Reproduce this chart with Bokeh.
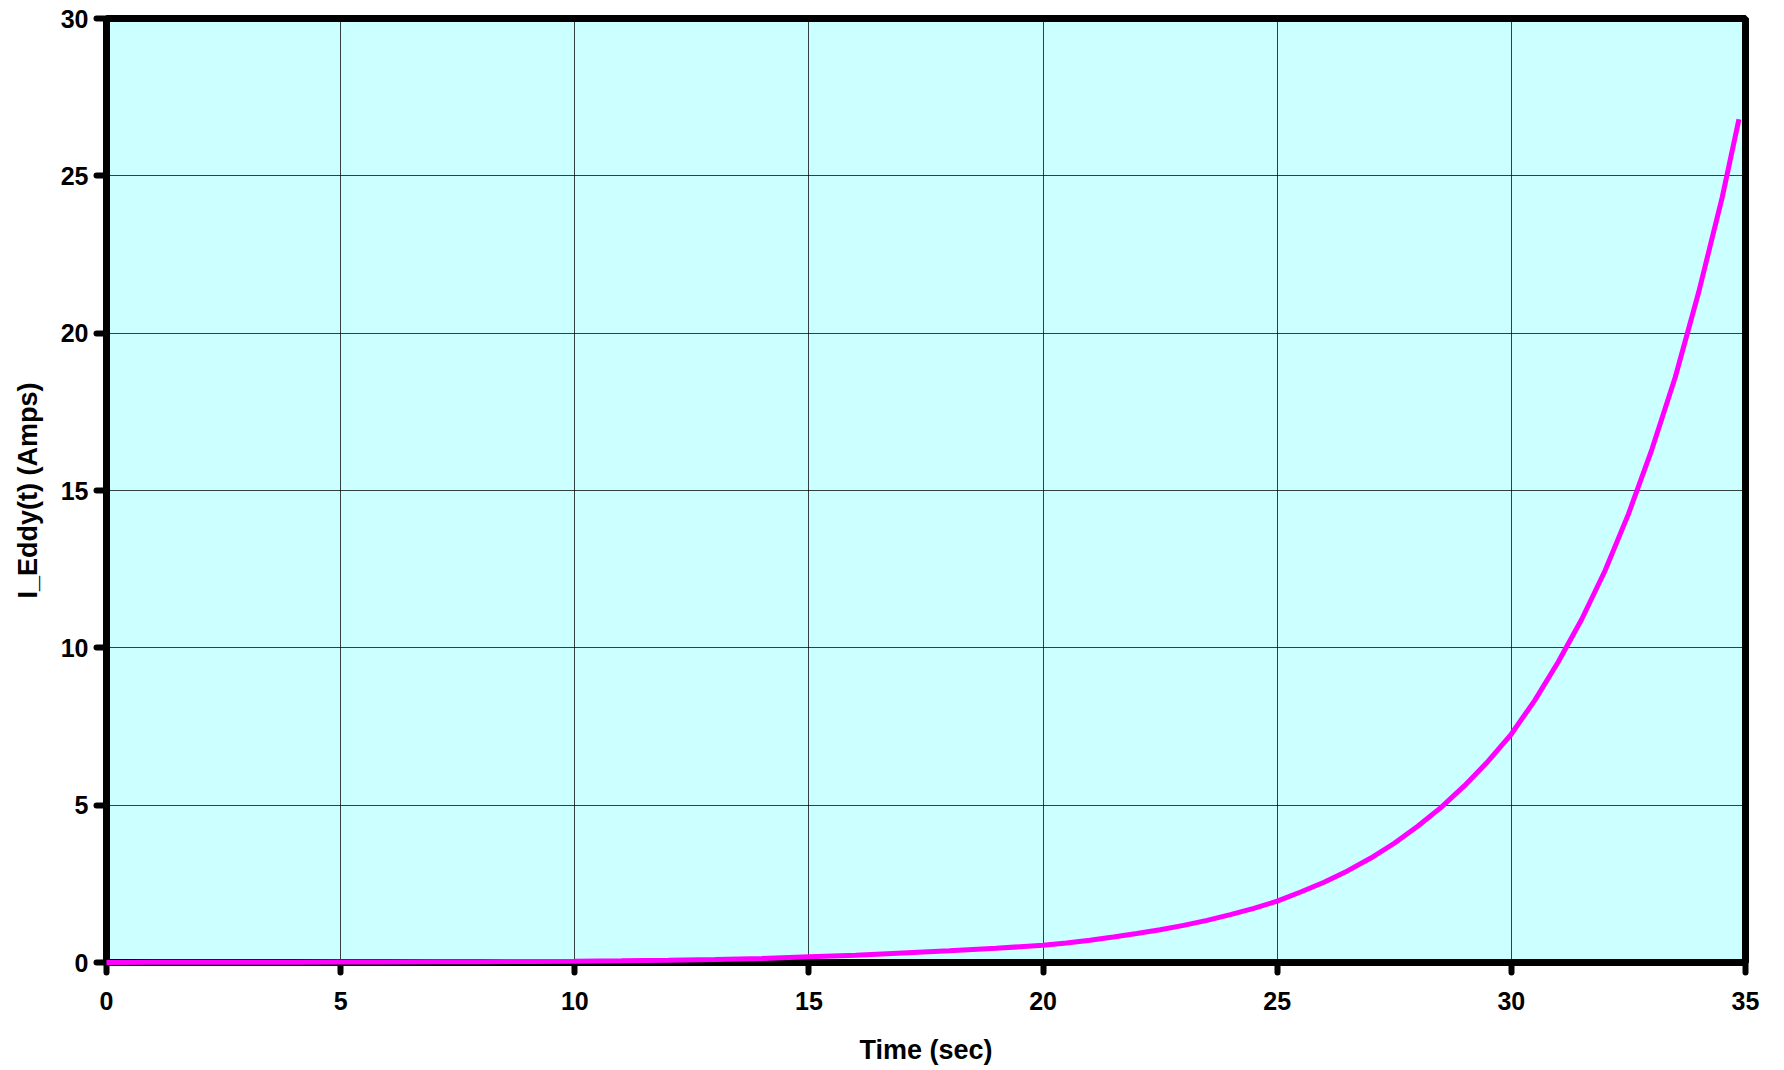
from bokeh.plotting import figure
from bokeh.models import Range1d, FixedTicker
from bokeh.embed import file_html
from bokeh.resources import INLINE

# Data
time_sec = [0, 1, 2, 3, 4, 5, 6, 7, 8, 9, 10, 11, 12, 13, 14, 15, 16, 17, 18, 19,
            20, 20.5, 21, 21.5, 22, 22.5, 23, 23.5, 24, 24.5, 25, 25.5, 26, 26.5,
            27, 27.5, 28, 28.5, 29, 29.5, 30, 30.5, 31, 31.5, 32, 32.5, 33, 33.5,
            34, 34.5, 34.86]
i_eddy = [0.003, 0.004, 0.005, 0.007, 0.009, 0.012, 0.015, 0.02, 0.025, 0.033,
          0.043, 0.056, 0.073, 0.095, 0.13, 0.18, 0.23, 0.30, 0.37, 0.45,
          0.55, 0.62, 0.71, 0.81, 0.92, 1.04, 1.18, 1.34, 1.52, 1.72, 1.95, 2.24,
          2.55, 2.91, 3.32, 3.79, 4.33, 4.93, 5.62, 6.39, 7.26, 8.33, 9.55, 10.9,
          12.45, 14.25, 16.3, 18.6, 21.3, 24.3, 26.8]
x_ticks = [0, 5, 10, 15, 20, 25, 30, 35]
y_ticks = [0, 5, 10, 15, 20, 25, 30]

FONT = "Liberation Sans"

p = figure(width=1776, height=1067, output_backend="svg", toolbar_location=None,
           x_range=Range1d(0, 35), y_range=Range1d(0, 30),
           min_border_left=106, min_border_top=18, min_border_right=31,
           min_border_bottom=98)

p.background_fill_color = "#CCFFFF"
p.border_fill_color = "white"
p.outline_line_color = "black"
p.outline_line_width = 7

p.line(time_sec, i_eddy, line_color="#FF00FF", line_width=5, level="overlay")

for ax, ticks in ((p.xaxis, x_ticks), (p.yaxis, y_ticks)):
    ax.ticker = FixedTicker(ticks=ticks)
    ax.axis_line_color = "black"
    ax.axis_line_width = 7
    ax.major_tick_line_color = "black"
    ax.major_tick_line_width = 6
    ax.major_tick_line_cap = "round"
    ax.major_tick_in = 0
    ax.minor_tick_line_color = None
    ax.major_label_text_font = FONT
    ax.major_label_text_font_style = "bold"
    ax.major_label_text_font_size = "25px"
    ax.major_label_text_color = "black"
    ax.axis_label_text_font = FONT
    ax.axis_label_text_font_style = "bold"
    ax.axis_label_text_font_size = "27px"
    ax.axis_label_text_color = "black"

p.xaxis.major_tick_out = 10
p.yaxis.major_tick_out = 10
p.xaxis.major_label_standoff = 19
p.yaxis.major_label_standoff = 8
p.xaxis.axis_label = "Time (sec)"
p.yaxis.axis_label = "I_Eddy(t) (Amps)"
p.xaxis.axis_label_standoff = 22
p.yaxis.axis_label_standoff = 15

p.xgrid.ticker = FixedTicker(ticks=x_ticks)
p.ygrid.ticker = FixedTicker(ticks=y_ticks)
for g in (p.xgrid, p.ygrid):
    g.grid_line_color = "black"
    g.grid_line_width = 1
    g.grid_line_alpha = 0.75

open("out.html", "w").write(file_html(p, INLINE))
